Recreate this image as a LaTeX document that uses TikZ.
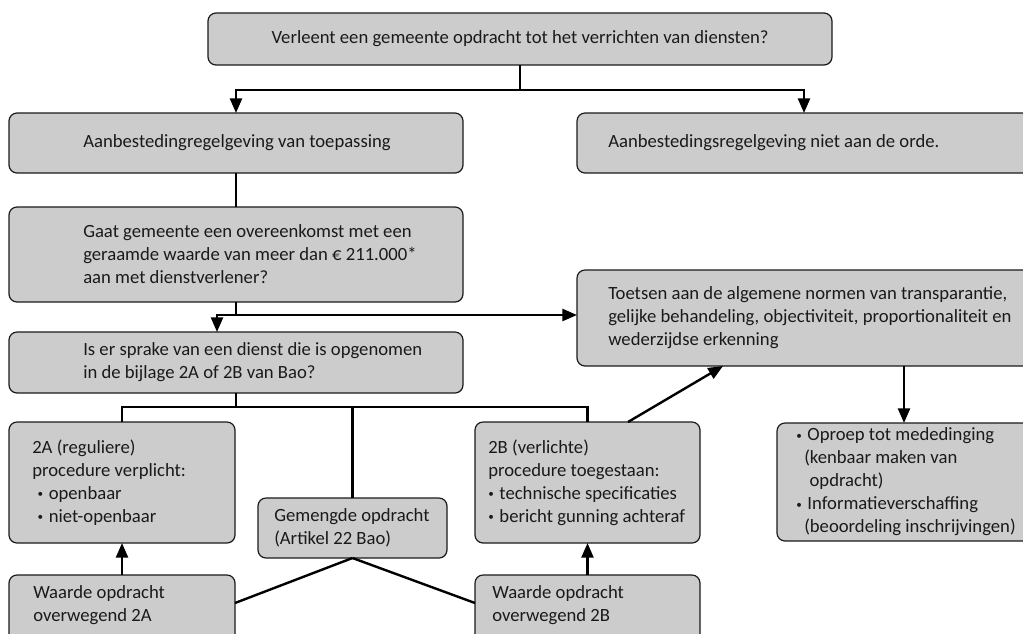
\documentclass[tikz,border=0pt]{standalone}
\usepackage{fontspec}
\setmainfont{Carlito}
\usepackage{graphicx}
\usetikzlibrary{arrows.meta}
\definecolor{boxfill}{HTML}{CCCCCC}
\definecolor{boxline}{HTML}{1A1A1A}
\definecolor{txtc}{HTML}{1A1A1A}
\newcommand\mybul{\raisebox{.2ex}{\scalebox{.6}{\textbullet}}\hspace{.3em}}
\newcommand\fnt{\fontsize{14pt}{17.25pt}\selectfont}
\begin{document}
\begin{tikzpicture}[x=0.75pt,y=-0.75pt,
  bx/.style={draw=boxline, fill=boxfill, line width=0.9pt, rounded corners=6pt, anchor=north west, inner sep=0pt, outer sep=0pt},
  tx/.style={anchor=west, align=left, inner sep=0pt, text=txtc, font=\fnt},
  conn/.style={line width=1.8pt, draw=black},
  arr/.style={conn, -{Triangle[length=11pt,width=9pt]}}
]
\useasboundingbox (0,0) rectangle (1023,633);
\clip (0,0) rectangle (1023,633);

% boxes
\node[bx, minimum width=468pt, minimum height=39pt, text=txtc, font=\fnt] (top) at (208,13) {Verleent een gemeente opdracht tot het verrichten van diensten?};
\node[bx, minimum width=340.5pt, minimum height=45pt] (toep) at (9,113) {};
\node[bx, minimum width=352.5pt, minimum height=45pt] (orde) at (577,113) {};
\node[bx, minimum width=340.5pt, minimum height=71.25pt] (gaat) at (9,207) {};
\node[bx, minimum width=340.5pt, minimum height=45.75pt] (is) at (9,332) {};
\node[bx, minimum width=352.5pt, minimum height=72pt] (toets) at (577,270) {};
\node[bx, minimum width=169.5pt, minimum height=90.75pt] (A2) at (9,422) {};
\node[bx, minimum width=141.75pt, minimum height=45pt] (gem) at (258,498) {};
\node[bx, minimum width=168.75pt, minimum height=90.75pt] (B2) at (475,422) {};
\node[bx, minimum width=169.5pt, minimum height=60pt] (WA) at (9,575) {};
\node[bx, minimum width=168.75pt, minimum height=60pt] (WB) at (475,575) {};
\node[bx, minimum width=202.5pt, minimum height=88.5pt] (oproep) at (777,423) {};

% texts
\node[tx] (toep-t) at ([xshift=55.5pt]toep.west) {Aanbestedingregelgeving van toepassing};
\node[tx] (orde-t) at ([xshift=23.25pt]orde.west) {Aanbestedingsregelgeving niet aan de orde.};
\node[tx] (gaat-t) at ([xshift=55.5pt]gaat.west) {Gaat gemeente een overeenkomst met een\\geraamde waarde van meer dan € 211.000*\\aan met dienstverlener?};
\node[tx] (is-t) at ([xshift=55.5pt]is.west) {Is er sprake van een dienst die is opgenomen\\in de bijlage 2A of 2B van Bao?};
\node[tx] (toets-t) at ([xshift=23.25pt]toets.west) {Toetsen aan de algemene normen van transparantie,\\gelijke behandeling, objectiviteit, proportionaliteit en\\wederzijdse erkenning};
\node[tx] (A2-t) at ([xshift=17.25pt]A2.west) {2A (reguliere)\\procedure verplicht:\\\hspace*{4pt}\mybul openbaar\\\hspace*{4pt}\mybul niet-openbaar};
\node[tx] (gem-t) at ([xshift=12pt]gem.west) {Gemengde opdracht\\(Artikel 22 Bao)};
\node[tx] (B2-t) at ([xshift=9.75pt]B2.west) {2B (verlichte)\\procedure toegestaan:\\\mybul technische specificaties\\\mybul bericht gunning achteraf};
\node[tx] (WA-t) at ([shift={(24,30)}]WA.north west) {Waarde opdracht\\overwegend 2A};
\node[tx] (WB-t) at ([shift={(17,30)}]WB.north west) {Waarde opdracht\\overwegend 2B};
\node[tx] (oproep-t) at ([xshift=14.25pt]oproep.west) {\mybul Oproep tot mededinging\\\hspace*{6pt}(kenbaar maken van\\\hspace*{10pt}opdracht)\\\mybul Informatieverschaffing\\\hspace*{6pt}(beoordeling inschrijvingen)};

% connectors
\draw[conn] (top.south) -- ++(0,25) coordinate (j1);
\draw[arr] (j1) -| (toep.north);
\draw[arr] (j1) -| ([xshift=170.25pt]orde.north west);
\draw[conn] (toep.south) -- (gaat.north);
\draw[conn] (gaat.south) -- ++(0,13) coordinate (j2);
\draw[arr] (j2) -| ([xshift=-14.25pt]is.north);
\draw[arr] (j2) -- (j2 -| toets.west);
\draw[conn] (is.south) -- ++(0,14) coordinate (j3);
\draw[conn] (j3) -| (A2.north);
\draw[conn] (j3) -| (gem.north);
\draw[conn] (j3) -| (B2.north);
\draw[arr] (WA.north) -- (A2.south);
\draw[arr] (WB.north) -- (B2.south);
\draw[conn] (gem.south) -- ([yshift=-21pt]WA.north east);
\draw[conn] (gem.south) -- ([yshift=-21pt]WB.north west);
\draw[arr] ([xshift=114.75pt]B2.north west) -- ([xshift=109.5pt]toets.south west);
\draw[arr] ([xshift=245.25pt]toets.south west) -- ([xshift=95.25pt]oproep.north west);
\end{tikzpicture}
\end{document}
